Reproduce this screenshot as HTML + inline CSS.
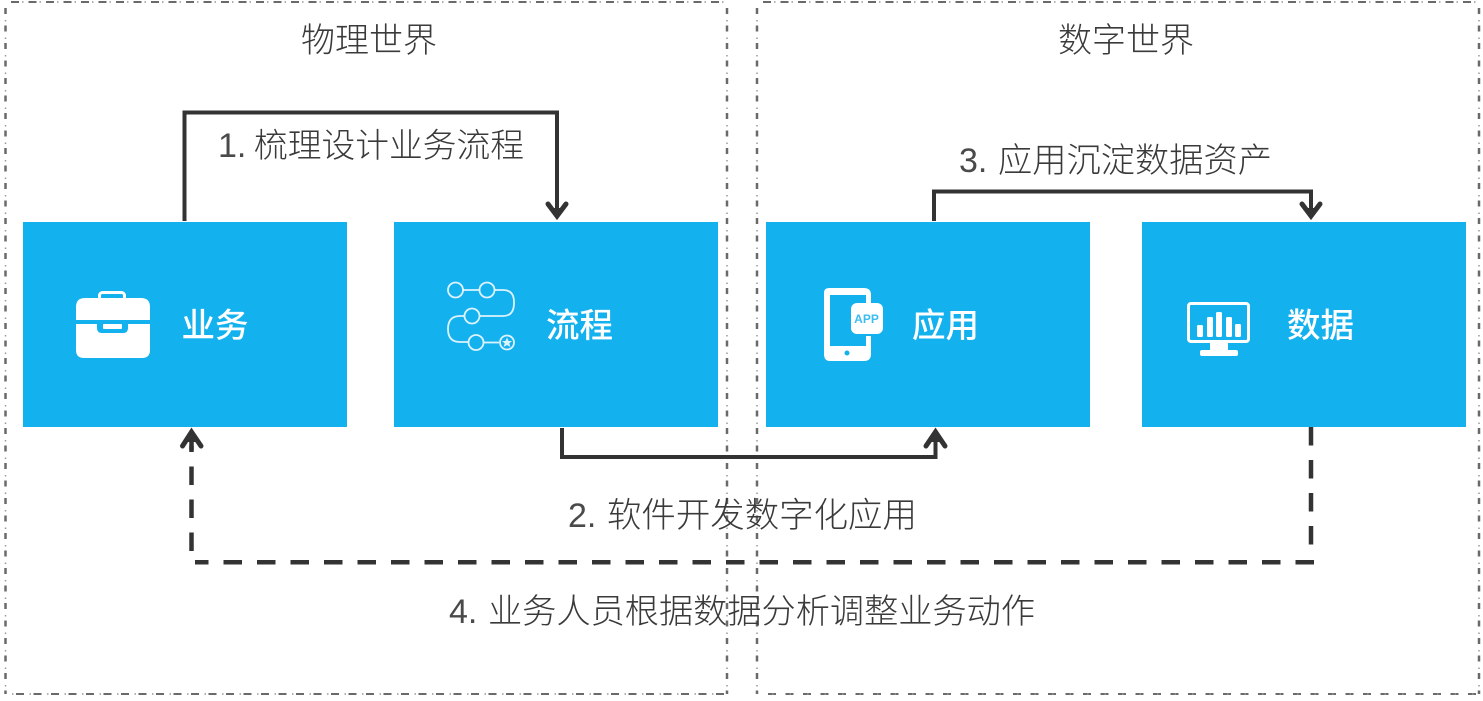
<!DOCTYPE html>
<html><head><meta charset="utf-8">
<style>
html,body{margin:0;padding:0;background:#fff;width:1483px;height:701px;overflow:hidden}
svg{display:block}
text{font-family:"Liberation Sans","Noto Sans CJK SC",sans-serif}
.t{font-size:34px;fill:#3a3a3a;font-weight:300}
.n{font-size:34px;fill:#4a4a4a;font-weight:300}
.w{font-size:33.500px;fill:#fff;font-weight:500}
</style></head><body>
<svg width="1483" height="701" viewBox="0 0 1483 701" xmlns="http://www.w3.org/2000/svg">
<!-- panel borders: heavier dashes plus faint dots -->
<g fill="none" stroke="#6a6a6a">
<g stroke-width="2" stroke-dasharray="8 9.500">
<path d="M11 2H725"/><path d="M763 2H1476"/>
<path d="M16 694H725"/>
<path d="M768 694H1479"/>
</g>
<g stroke-width="2.500" stroke-dasharray="6 11.500">
<path d="M5.500 8V694"/><path d="M727 8V694"/>
<path d="M757 8V694"/><path d="M1479 8V694"/>
</g>
</g>
<g fill="none" stroke="#999">
<g stroke-width="1.500" stroke-dasharray="1.500 16">
<path d="M22 2H725"/><path d="M774 2H1476"/>
<path d="M12 694H725"/><path d="M772 694H1479"/>
<path d="M5.500 20V690"/><path d="M727 20V690"/>
<path d="M757 20V690"/><path d="M1479 20V690"/>
</g>
</g>
<g fill="#14b1ef">
<rect x="23" y="222" width="324" height="205"/>
<rect x="394" y="222" width="324" height="205"/>
<rect x="766" y="222" width="324" height="205"/>
<rect x="1142" y="222" width="324" height="205"/>
</g>
<g fill="none" stroke="#333" stroke-width="4">
<path d="M184.500 221V112.500H557V216"/>
<path d="M934 221V191.500H1311V216"/>
<path d="M562 428V457H935.500V432"/>
</g>
<g fill="none" stroke="#333" stroke-width="4.500">
<path d="M1311 427V545" stroke-dasharray="18.500 14.500"/>
<path d="M1314 562.300H195" stroke-dasharray="18.500 15"/>
<path d="M191.500 551V446" stroke-dasharray="18.500 14.500"/>
<path d="M191.500 432V450"/>
</g>
<g fill="none" stroke="#333" stroke-width="5" stroke-linecap="round" stroke-linejoin="miter">
<path d="M548 204L557 216L566 204"/>
<path d="M1302 204L1311 216L1320 204"/>
<path d="M926 446L935.500 432L945 446"/>
<path d="M182.500 446L191.500 432L201 446"/>
</g>
<g fill="#333">
<path d="M552 208H562L557 219Z"/>
<path d="M1306 208H1316L1311 219Z"/>
<path d="M930.500 442H940.500L935.500 429Z"/>
<path d="M186.500 442H196.500L191.500 429Z"/>
</g>
<text class="t" x="301" y="52">物理世界</text>
<text class="t" x="1058" y="52">数字世界</text>
<text class="n" x="218" y="157">1.</text>
<text class="t" x="254" y="157" style="font-size:33.750px">梳理设计业务流程</text>
<text class="n" x="959" y="172">3.</text>
<text class="t" x="998" y="172" style="font-size:34.250px">应用沉淀数据资产</text>
<text class="n" x="568" y="527">2.</text>
<text class="t" x="607" y="527" style="font-size:34.450px">软件开发数字化应用</text>
<text class="n" x="449" y="623">4.</text>
<text class="t" x="488" y="623" style="font-size:34.200px">业务人员根据数据分析调整业务动作</text>
<text class="w" x="181.500" y="337">业务</text>
<text class="w" x="546" y="337">流程</text>
<text class="w" x="912" y="337">应用</text>
<text class="w" x="1287" y="337">数据</text>
<!-- briefcase -->
<path d="M76 320V307Q76 298 85 298H141Q150 298 150 307V320Z" fill="#fff"/>
<path d="M76 324H97V328Q97 333 102 333H123Q128 333 128 328V324H150V350Q150 358 142 358H84Q76 358 76 350Z" fill="#fff"/>
<rect x="103" y="324" width="19" height="5" rx="1" fill="#fff"/>
<rect x="99.500" y="292.500" width="25" height="10" rx="3" fill="none" stroke="#fff" stroke-width="3"/>
<!-- flow -->
<g fill="none" stroke="#fff" stroke-opacity=".85" stroke-width="1.800">
<circle cx="455.500" cy="290" r="7.500"/>
<circle cx="487" cy="290" r="7.500"/>
<path d="M463 290H479M495 290H503Q514 290 514 302V303Q514 316 503 316H480"/>
<circle cx="472" cy="316" r="7.500"/>
<path d="M464 316H460Q448 316 448 329Q448 342 460 342H468"/>
<circle cx="476" cy="342.500" r="7.500"/>
<path d="M484 342.500H499"/>
<circle cx="507" cy="342.500" r="7"/>
</g>
<path d="M507 337.500L508.500 341H512L509.300 343.300L510.300 347L507 345L503.700 347L504.700 343.300L502 341H505.500Z" fill="#fff" fill-opacity=".85"/>
<!-- tablet -->
<path fill-rule="evenodd" d="M829 288H864Q871 288 871 295V306H866V295H830V346H866V336H871V354Q871 361 864 361H830Q824 361 824 354V293Q824 288 829 288Z" fill="#fff"/>
<circle cx="847" cy="353" r="2.500" fill="#14b1ef"/>
<rect x="851" y="303" width="32" height="31" rx="6" fill="#fff"/>
<text x="866.500" y="323" text-anchor="middle" font-size="12" font-weight="700" fill="#3cbdf1">APP</text>
<!-- monitor -->
<rect x="1188.500" y="303.500" width="60" height="38" rx="2.500" fill="none" stroke="#fff" stroke-width="3"/>
<g fill="#fff">
<rect x="1197" y="325" width="6" height="12" rx="1.500"/>
<rect x="1207" y="317" width="6" height="20" rx="1.500"/>
<rect x="1216" y="312" width="6" height="25" rx="1.500"/>
<rect x="1226" y="317" width="6" height="20" rx="1.500"/>
<rect x="1235" y="324" width="6" height="13" rx="1.500"/>
<rect x="1210" y="343" width="18" height="8"/>
<rect x="1200" y="350" width="38" height="6" rx="2"/>
</g>
</svg>
</body></html>
